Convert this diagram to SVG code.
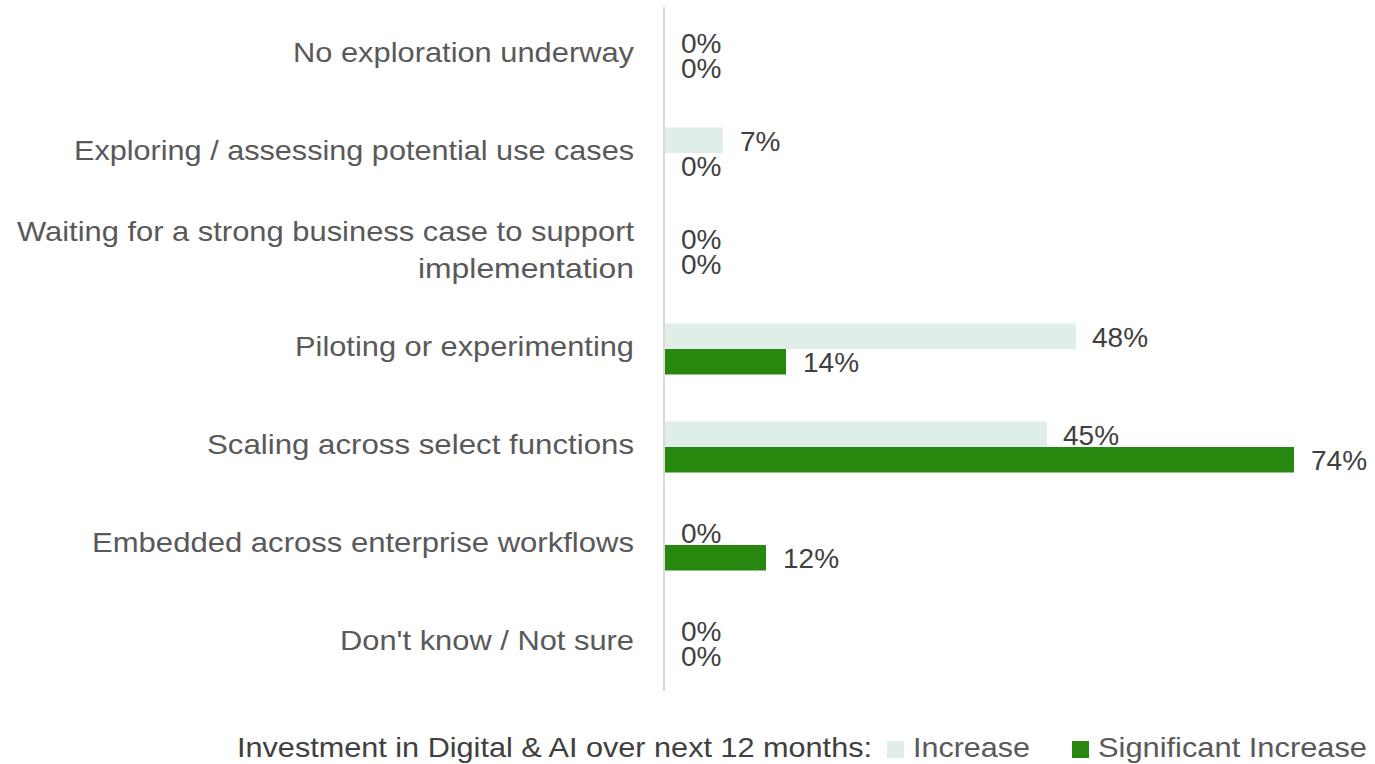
<svg xmlns="http://www.w3.org/2000/svg" width="1375" height="764" viewBox="0 0 1375 764">
<style>
.cat{font-family:"Liberation Sans",Arial,sans-serif;font-size:28px;fill:#595959;text-anchor:end}
.val{font-family:"Liberation Sans",Arial,sans-serif;font-size:28px;fill:#404040}
.leg{font-family:"Liberation Sans",Arial,sans-serif;font-size:28px;fill:#404040}
.leg2{font-family:"Liberation Sans",Arial,sans-serif;font-size:28px;fill:#595959}
.inc{fill:#DFEFE8}
.sig{fill:#27870F}
</style>
<rect width="1375" height="764" fill="#ffffff"/>
<g id="axis">
<line x1="664" y1="7" x2="664" y2="691" stroke="#D9D9D9" stroke-width="2"/>
</g>
<g id="row1">
<text class="cat" x="634" y="62" textLength="341" lengthAdjust="spacingAndGlyphs">No exploration underway</text>
<text class="val" x="681" y="53">0%</text>
<text class="val" x="681" y="78">0%</text>
</g>
<g id="row2">
<text class="cat" x="634" y="160" textLength="560" lengthAdjust="spacingAndGlyphs">Exploring / assessing potential use cases</text>
<rect class="inc" x="665" y="127.5" width="58" height="25.5"/>
<text class="val" x="740" y="150.5">7%</text>
<text class="val" x="681" y="176">0%</text>
</g>
<g id="row3">
<text class="cat" x="634" y="241" textLength="617" lengthAdjust="spacingAndGlyphs">Waiting for a strong business case to support</text>
<text class="cat" x="634" y="278" textLength="216" lengthAdjust="spacingAndGlyphs">implementation</text>
<text class="val" x="681" y="248.5">0%</text>
<text class="val" x="681" y="274">0%</text>
</g>
<g id="row4">
<text class="cat" x="634" y="356" textLength="339" lengthAdjust="spacingAndGlyphs">Piloting or experimenting</text>
<rect class="inc" x="665" y="323.5" width="411" height="25.5"/>
<rect class="sig" x="665" y="349" width="121" height="25.5"/>
<text class="val" x="1092" y="346.5">48%</text>
<text class="val" x="803" y="372">14%</text>
</g>
<g id="row5">
<text class="cat" x="634" y="454" textLength="427" lengthAdjust="spacingAndGlyphs">Scaling across select functions</text>
<rect class="inc" x="665" y="421.5" width="382" height="25.5"/>
<rect class="sig" x="665" y="447" width="629" height="25.5"/>
<text class="val" x="1063" y="444.5">45%</text>
<text class="val" x="1311" y="470">74%</text>
</g>
<g id="row6">
<text class="cat" x="634" y="552" textLength="542" lengthAdjust="spacingAndGlyphs">Embedded across enterprise workflows</text>
<rect class="sig" x="665" y="545" width="101" height="25.5"/>
<text class="val" x="681" y="542.5">0%</text>
<text class="val" x="783" y="568">12%</text>
</g>
<g id="row7">
<text class="cat" x="634" y="650" textLength="294" lengthAdjust="spacingAndGlyphs">Don't know / Not sure</text>
<text class="val" x="681" y="640.5">0%</text>
<text class="val" x="681" y="666">0%</text>
</g>
<g id="legend">
<text class="leg" x="237" y="757" textLength="635" lengthAdjust="spacingAndGlyphs">Investment in Digital &amp; AI over next 12 months:</text>
<rect class="inc" x="887" y="741" width="17" height="17"/>
<text class="leg2" x="913" y="757" textLength="117" lengthAdjust="spacingAndGlyphs">Increase</text>
<rect class="sig" x="1072" y="741" width="17" height="17"/>
<text class="leg2" x="1098" y="757" textLength="269" lengthAdjust="spacingAndGlyphs">Significant Increase</text>
</g>
</svg>
